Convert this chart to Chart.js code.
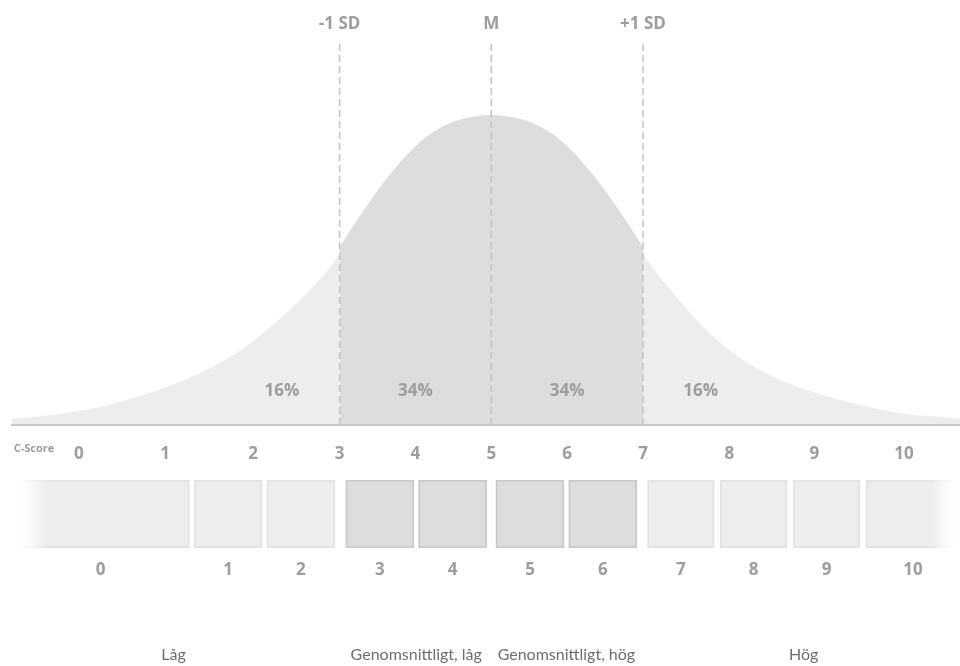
<!DOCTYPE html>
<html>
<head>
<meta charset="utf-8">
<script src="https://cdn.jsdelivr.net/npm/chart.js@4.4.1/dist/chart.umd.min.js"></script>
<style>
html,body{margin:0;padding:0;background:#ffffff;}
canvas{display:block;}
</style>
</head>
<body>
<canvas id="curve" width="960" height="470"></canvas>
<canvas id="boxes" width="960" height="196"></canvas>
<script>
// ---- data (x in SD units from the mean, heights in % of the peak) ----
const leftTailZ  = [-3.16, -3.02, -2.80, -2.58, -2.36, -2.14, -1.92, -1.70, -1.48, -1.26, -1.06, -1.00];
const leftTailH  = [  1.9,   2.6,   3.9,   5.8,   8.7,  12.3,  16.8,  22.6,  30.6,  40.3,  51.0,  55.0];
const centerZ    = [-1.0, -0.9, -0.8, -0.7, -0.6, -0.5, -0.4, -0.3, -0.2, -0.1, 0.0, 0.1, 0.2, 0.3, 0.4, 0.5, 0.6, 0.7, 0.8, 0.9, 1.0];
const centerH    = [57.4, 65.0, 72.2, 78.9, 84.8, 89.9, 94.0, 96.8, 98.6, 99.6, 100, 99.6, 98.6, 96.8, 94.0, 89.9, 84.8, 78.9, 72.2, 65.0, 57.4];
const rightTailZ = [1.00, 1.10, 1.20, 1.42, 1.64, 1.86, 2.08, 2.30, 2.52, 2.74, 2.96, 3.09];
const rightTailH = [55.0, 48.5, 42.5, 30.5, 21.6, 15.5, 11.3,  8.1,  5.5,  3.5,  2.6,  1.9];

const sdLineZ      = [-1, 0, 1];
const sdLineLabels = ['-1 SD', 'M', '+1 SD'];

const shareZ      = [-1.38, -0.5, 0.5, 1.38];
const shareLabels = ['16%', '34%', '34%', '16%'];

const cScoreTickZ      = [-2.72, -2.15, -1.57, -1.00, -0.50, 0.00, 0.50, 1.00, 1.57, 2.13, 2.72];
const cScoreTickLabels = ['0', '1', '2', '3', '4', '5', '6', '7', '8', '9', '10'];

const bandLabels = ['0', '1', '2', '3', '4', '5', '6', '7', '8', '9', '10'];
const bandFrom   = [-3.16, -1.96, -1.48, -0.96, -0.48, 0.03, 0.51, 1.03, 1.51, 1.99, 2.47];
const bandTo     = [-1.99, -1.51, -1.03, -0.51, -0.03, 0.48, 0.96, 1.47, 1.95, 2.43, 3.09];

const groupLabels    = ['Låg', 'Genomsnittligt, låg', 'Genomsnittligt, hög', 'Hög'];
const groupFirstBand = [0, 3, 5, 7];
const groupLastBand  = [2, 4, 6, 10];

// ---- styling ----
const Z_MIN = -3.16, Z_MAX = 3.09, H_MAX = 124.2;
const LIGHT = '#ededed', DARK = '#dcdddf';
const LIGHT_BORDER = '#e3e3e4', DARK_BORDER = '#cacacd';
const TEXT = '#9c9ca1';
const NUM_FONT = "'Open Sans', Lato, 'DejaVu Sans', sans-serif";
const LABEL_FONT = "Lato, 'Open Sans', 'DejaVu Sans', sans-serif";

const pts = (xs, ys) => xs.map((x, i) => ({ x: x, y: ys[i] }));

const areaStyle = (color, order) => ({
  backgroundColor: color, borderWidth: 0, borderColor: color, fill: 'origin',
  pointRadius: 0, cubicInterpolationMode: 'monotone', order: order
});

const curveText = {
  id: 'curveText',
  afterDatasetsDraw(chart) {
    const { ctx, scales: { x, y }, chartArea } = chart;
    ctx.save();
    ctx.textAlign = 'center';
    ctx.textBaseline = 'middle';
    ctx.fillStyle = TEXT;
    ctx.font = `bold 17px ${NUM_FONT}`;
    shareZ.forEach((z, i) => ctx.fillText(shareLabels[i], x.getPixelForValue(z), y.getPixelForValue(11.0)));
    sdLineZ.forEach((z, i) => ctx.fillText(sdLineLabels[i], x.getPixelForValue(z), chartArea.top - 16));
    ctx.font = `bold 11px ${NUM_FONT}`;
    ctx.fillText('C-Score', 34, chartArea.bottom + 24);
    ctx.restore();
  }
};

new Chart(document.getElementById('curve'), {
  type: 'line',
  data: {
    datasets: [
      ...sdLineZ.map(z => ({
        data: [{ x: z, y: 0 }, { x: z, y: H_MAX }],
        borderColor: '#c3c3c6', borderWidth: 1.5, borderDash: [7, 4],
        pointRadius: 0, fill: false, order: 0
      })),
      Object.assign({ data: pts(centerZ, centerH) }, areaStyle(DARK, 1)),
      Object.assign({ data: pts(leftTailZ, leftTailH) }, areaStyle(LIGHT, 2)),
      Object.assign({ data: pts(rightTailZ, rightTailH) }, areaStyle(LIGHT, 2))
    ]
  },
  options: {
    responsive: false, animation: false, devicePixelRatio: 1,
    layout: { padding: { left: 12, right: 0, top: 40, bottom: 0 } },
    plugins: { legend: { display: false }, tooltip: { enabled: false } },
    scales: {
      x: {
        type: 'linear', min: Z_MIN, max: Z_MAX,
        grid: { display: false, drawTicks: false },
        border: { display: true, color: '#c8c8cb', width: 2, z: 1 },
        afterBuildTicks: s => { s.ticks = cScoreTickZ.map(v => ({ value: v })); },
        afterFit: s => { s.height = 45; },
        ticks: {
          padding: 19, color: TEXT, autoSkip: false, maxRotation: 0,
          font: { family: NUM_FONT, size: 17, weight: 'bold' },
          callback: (v, i) => cScoreTickLabels[i]
        }
      },
      y: { display: false, min: 0, max: H_MAX }
    }
  },
  plugins: [curveText]
});

// ---- band boxes ----
const isCentral = i => bandFrom[i] >= -1 && bandTo[i] <= 1;
function fade(ctx, color) {
  const chart = ctx.chart, i = ctx.dataIndex;
  const xs = chart.scales && chart.scales.x;
  if (!xs || !chart.chartArea) return color;
  const c = chart.ctx;
  if (i === 0) {
    const x0 = xs.getPixelForValue(bandFrom[0]);
    const g = c.createLinearGradient(x0, 0, x0 + 34, 0);
    g.addColorStop(0, 'rgba(255,255,255,0)');
    g.addColorStop(1, color);
    return g;
  }
  if (i === bandFrom.length - 1) {
    const x1 = xs.getPixelForValue(bandTo[i]);
    const g = c.createLinearGradient(x1 - 28, 0, x1, 0);
    g.addColorStop(0, color);
    g.addColorStop(1, 'rgba(255,255,255,0)');
    return g;
  }
  return color;
}

const groupText = {
  id: 'groupText',
  afterDraw(chart) {
    const { ctx, scales: { x } } = chart;
    ctx.save();
    ctx.textAlign = 'center';
    ctx.textBaseline = 'middle';
    ctx.fillStyle = '#6e6e70';
    ctx.font = `16px ${LABEL_FONT}`;
    groupLabels.forEach((lab, i) => {
      const a = x.getPixelForValue(bandFrom[groupFirstBand[i]]);
      const b = x.getPixelForValue(bandTo[groupLastBand[i]]);
      ctx.fillText(lab, (a + b) / 2, chart.chartArea.bottom + 107);
    });
    ctx.restore();
  }
};

new Chart(document.getElementById('boxes'), {
  type: 'bar',
  data: {
    labels: ['C-Score'],
    datasets: [{
      data: bandFrom.map((f, i) => ({ x: [f, bandTo[i]], y: 'C-Score' })),
      backgroundColor: ctx => fade(ctx, isCentral(ctx.dataIndex) ? DARK : LIGHT),
      borderColor: ctx => fade(ctx, isCentral(ctx.dataIndex) ? DARK_BORDER : LIGHT_BORDER),
      borderWidth: 2, borderSkipped: false, barThickness: 68, grouped: false
    }]
  },
  options: {
    indexAxis: 'y', responsive: false, animation: false, devicePixelRatio: 1,
    layout: { padding: { left: 12, right: 0, top: 10, bottom: 0 } },
    plugins: { legend: { display: false }, tooltip: { enabled: false } },
    scales: {
      x: {
        type: 'linear', min: Z_MIN, max: Z_MAX,
        grid: { display: false, drawTicks: false },
        border: { display: false },
        afterBuildTicks: s => { s.ticks = bandFrom.map((f, i) => ({ value: (f + bandTo[i]) / 2 })); },
        afterFit: s => { s.height = 118; },
        ticks: {
          padding: 12, color: TEXT, autoSkip: false, maxRotation: 0,
          font: { family: NUM_FONT, size: 17, weight: 'bold' },
          callback: (v, i) => bandLabels[i]
        }
      },
      y: { display: false }
    }
  },
  plugins: [groupText]
});
</script>
</body>
</html>
